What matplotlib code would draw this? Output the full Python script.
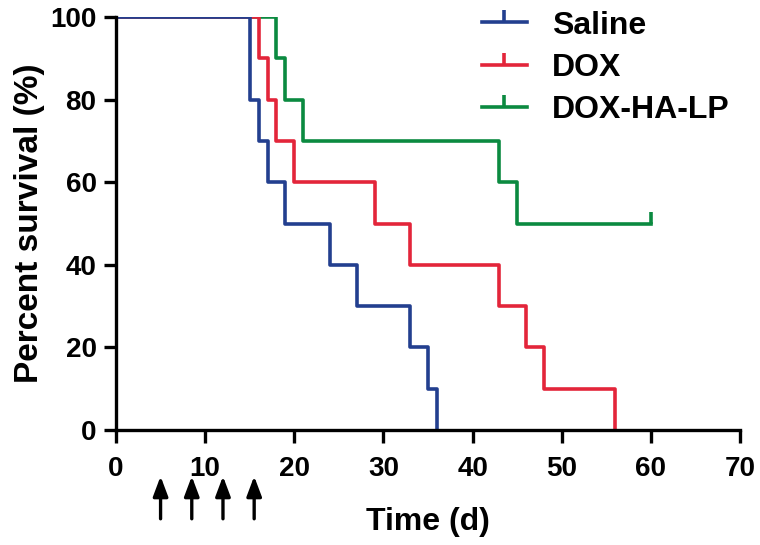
import matplotlib.pyplot as plt
from matplotlib.lines import Line2D

plt.rcParams['font.family'] = ['Liberation Sans', 'DejaVu Sans']
plt.rcParams['font.weight'] = 'bold'

# Kaplan-Meier steps (time in days, percent survival)
saline_t = [0, 15, 16, 17, 19, 24, 27, 33, 35, 36]
saline_s = [100, 80, 70, 60, 50, 40, 30, 20, 10, 0]

dox_t = [0, 16, 17, 18, 20, 29, 33, 43, 46, 48, 56]
dox_s = [100, 90, 80, 70, 60, 50, 40, 30, 20, 10, 0]

ha_t = [0, 18, 19, 21, 43, 45, 60]
ha_s = [100, 90, 80, 70, 60, 50, 50]
ha_censor_t = [60]
ha_censor_s = [50]

# dosing days (arrows under the x axis)
dose_days = [5, 8.5, 12, 15.5]

labels = ['Saline', 'DOX', 'DOX-HA-LP']
colors = ['#233f8f', '#e3253a', '#0b8a40']
lw = 2.6

fig = plt.figure(figsize=(7.6, 5.45), dpi=100)
ax = fig.add_axes([116/760, 1-430/545, 624/760, 413/545])

ax.plot(ha_t, ha_s, drawstyle='steps-post', color=colors[2], lw=lw)
ax.plot(ha_censor_t, ha_censor_s, ls='none', marker=2, ms=9, mew=lw,
        color=colors[2], clip_on=False)
ax.plot(dox_t, dox_s, drawstyle='steps-post', color=colors[1], lw=lw)
ax.plot(saline_t, saline_s, drawstyle='steps-post', color=colors[0], lw=lw)

ax.set_xlim(0, 70)
ax.set_ylim(0, 100)
ax.set_xticks(range(0, 71, 10))
ax.set_yticks(range(0, 101, 20))
for s in ['top', 'right']:
    ax.spines[s].set_visible(False)
for s in ['left', 'bottom']:
    ax.spines[s].set_linewidth(2.4)
ax.tick_params(axis='both', direction='out', length=9, width=2.4,
               labelsize=20)
ax.tick_params(axis='x', pad=10)
ax.tick_params(axis='y', pad=5)
ax.set_xlabel('Time (d)', fontsize=23, fontweight='bold', labelpad=18)
ax.set_ylabel('Percent survival (%)', fontsize=24, fontweight='bold', labelpad=4)

# arrows marking treatment days
for d in dose_days:
    ax.annotate('', xy=(d, -0.112), xytext=(d, -0.215),
                xycoords=ax.get_xaxis_transform(),
                textcoords=ax.get_xaxis_transform(),
                arrowprops=dict(arrowstyle='-|>,head_width=0.45,head_length=1.2',
                                color='black', lw=2.4, shrinkA=0, shrinkB=0),
                annotation_clip=False)

handles = [Line2D([], [], color=c, lw=lw, marker=2, ms=9, mew=lw) for c in colors]
ax.legend(handles, labels, loc='upper right', bbox_to_anchor=(1.03, 1.085),
          frameon=False, fontsize=23, handlelength=1.4, handletextpad=0.8,
          labelspacing=0.38, numpoints=1)

fig.savefig('out.png', dpi=100)
